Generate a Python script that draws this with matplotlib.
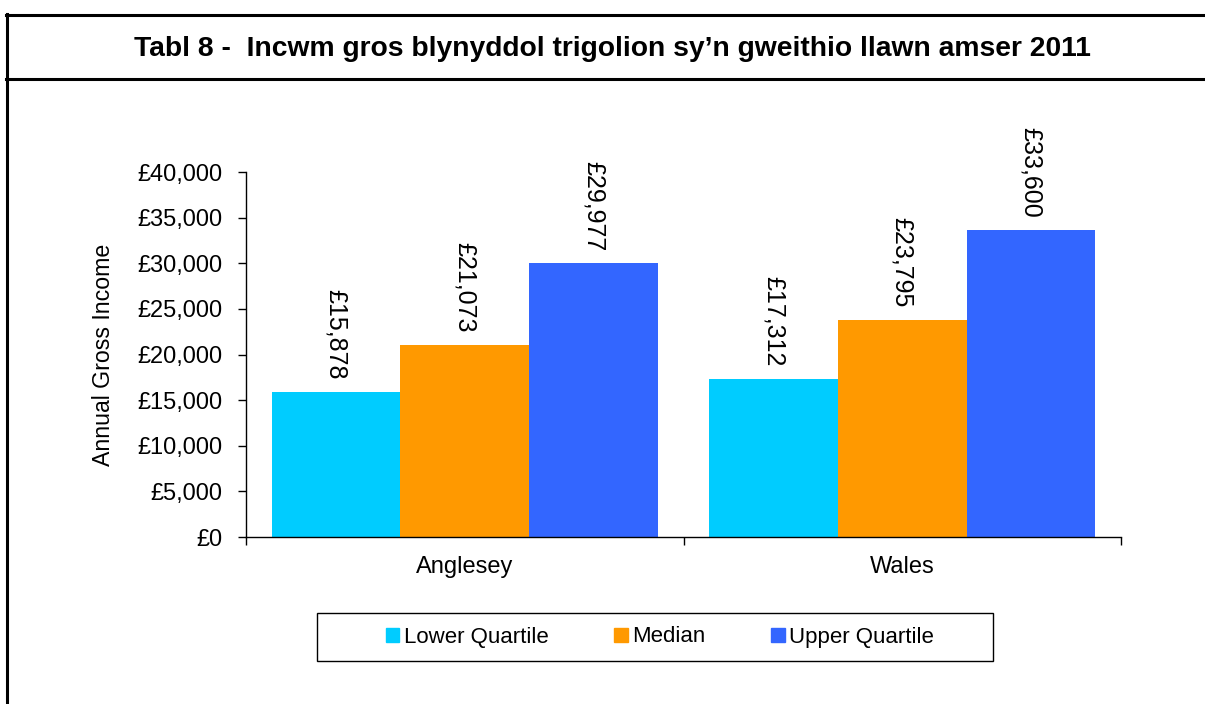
import numpy as np
import matplotlib
matplotlib.use('Agg')
import matplotlib.pyplot as plt
from matplotlib.lines import Line2D
from matplotlib.patches import Rectangle, Patch
from matplotlib.ticker import FuncFormatter

plt.rcParams['font.family'] = ['Liberation Sans', 'DejaVu Sans']

# data
areas = ['Anglesey', 'Wales']
series = ['Lower Quartile', 'Median', 'Upper Quartile']
lower_q = [15878, 17312]
median = [21073, 23795]
upper_q = [29977, 33600]
colors = ['#00CCFF', '#FF9900', '#3366FF']

title = 'Tabl 8 -  Incwm gros blynyddol trigolion sy\u2019n gweithio llawn amser 2011'

W, H = 1205, 704
fig = plt.figure(figsize=(W / 100, H / 100), dpi=100)
fig.patch.set_facecolor('white')

# table-cell borders around the chart
def hline(y, x0, x1):
    fig.add_artist(Line2D([x0 / W, x1 / W], [1 - y / H, 1 - y / H], color='black', lw=2.2))

def vline(x, y0, y1):
    fig.add_artist(Line2D([x / W, x / W], [1 - y0 / H, 1 - y1 / H], color='black', lw=2.2))

hline(15, 6, W)
hline(79, 6, W)
vline(7, 14, H)

fig.text(612 / W, 1 - 49 / H, title, ha='center', va='center',
         fontsize=20.3, fontweight='bold')

ax = fig.add_axes([246 / W, 1 - 537 / H, (1121 - 246) / W, (537 - 172) / H])

x = np.arange(len(areas))
bw = 1 / 3.4
all_series = [lower_q, median, upper_q]
for i, vals in enumerate(all_series):
    pos = x + (i - 1) * bw
    bars = ax.bar(pos, vals, width=bw, color=colors[i], label=series[i])
    for b, v in zip(bars, vals):
        ax.annotate('\u00a3{:,}'.format(v), (b.get_x() + b.get_width() / 2, v),
                    xytext=(0, 9), textcoords='offset points',
                    rotation=270, ha='center', va='bottom', fontsize=18)

ax.set_xlim(-0.5, 1.5)
ax.set_ylim(0, 40000)
ax.set_yticks(np.arange(0, 40001, 5000))
ax.yaxis.set_major_formatter(FuncFormatter(lambda v, p: '\u00a3{:,.0f}'.format(v)))
ax.set_xticks(x)
ax.set_xticklabels(areas)
ax.set_xticks([-0.5, 0.5, 1.5], minor=True)
ax.tick_params(axis='x', which='major', length=0, pad=14, labelsize=17)
ax.tick_params(axis='x', which='minor', length=6, width=1)
ax.tick_params(axis='y', length=6, width=1, pad=11, labelsize=17)
ax.set_ylabel('Annual Gross Income', fontsize=16.7, labelpad=16)
for s in ['top', 'right']:
    ax.spines[s].set_visible(False)
for s in ['left', 'bottom']:
    ax.spines[s].set_linewidth(1)
    ax.spines[s].set_color('black')

# legend box
fig.add_artist(Rectangle((317 / W, 1 - 661 / H), (993 - 317) / W, (661 - 613) / H,
                         transform=fig.transFigure, fill=False, edgecolor='black', lw=1))
handles = [Patch(color=c) for c in colors]
fig.legend(handles, series, loc='center', bbox_to_anchor=(660 / W, 1 - 637 / H),
           ncol=3, frameon=False, fontsize=16, handlelength=0.6, handleheight=0.6,
           handletextpad=0.2, columnspacing=2.97)

fig.savefig('out.png', dpi=100)
